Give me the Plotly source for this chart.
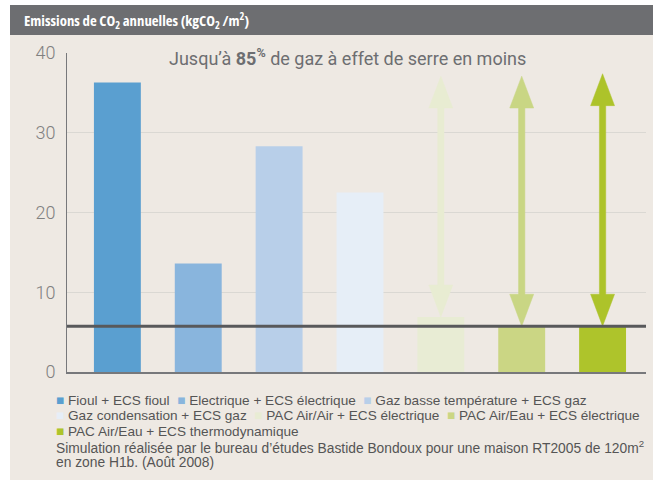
import plotly.graph_objects as go

# ---- data ----
categories = [
    "Fioul + ECS fioul",
    "Electrique + ECS électrique",
    "Gaz basse température + ECS gaz",
    "Gaz condensation + ECS gaz",
    "PAC Air/Air + ECS électrique",
    "PAC Air/Eau + ECS électrique",
    "PAC Air/Eau + ECS thermodynamique",
]
emissions = [36.3, 13.6, 28.3, 22.5, 6.9, 5.8, 5.8]
reference_level = 5.75
arrow_top = [None, None, None, None, 37.1, 37.1, 37.4]
arrow_bottom = [None, None, None, None, 6.9, 5.75, 5.75]
y_ticks = [0, 10, 20, 30, 40]
legend_rows = [[0, 1, 2], [3, 4, 5], [6]]
note_lines = [
    "Simulation réalisée par le bureau d’études Bastide Bondoux pour une maison RT2005 de 120m<sup>2</sup>",
    "en zone H1b. (Août 2008)",
]

# ---- styles ----
colors = ["#5A9FD0", "#89B5DD", "#B8CFE9", "#E6EEF7", "#E8ECD4", "#CBD684", "#AEC42B"]
arrow_colors = ["", "", "", "", "#E8ECD2", "#C9D684", "#ADC32A"]
BAR_W = 0.58
HEAD_HW = 0.148   # arrow head half-width (x units)
SHAFT_HW = 0.039  # arrow shaft half-width (x units)
HEAD_LEN = 4.0    # arrow head length (y units)
BG = "#EEE9E3"
TEXT_FONT = "Liberation Sans, Arial, sans-serif"

W, H = 659, 480
ML, MR, MT, MB = 67, 13, 53, 108
PW, PH = W - ML - MR, H - MT - MB


def px(x):
    return (x - ML) / PW


def py(y):
    return (H - MB - y) / PH


fig = go.Figure()

for i, (cat, val) in enumerate(zip(categories, emissions)):
    fig.add_trace(go.Bar(x=[i], y=[val], width=BAR_W, marker=dict(color=colors[i], line=dict(width=0)),
                         name=cat, showlegend=False, hoverinfo="y"))

for i, (t, b) in enumerate(zip(arrow_top, arrow_bottom)):
    if t is None:
        continue
    xs = [i - SHAFT_HW, i - HEAD_HW, i, i + HEAD_HW, i + SHAFT_HW,
          i + SHAFT_HW, i + HEAD_HW, i, i - HEAD_HW, i - SHAFT_HW, i - SHAFT_HW]
    ys = [t - HEAD_LEN, t - HEAD_LEN, t, t - HEAD_LEN, t - HEAD_LEN,
          b + HEAD_LEN, b + HEAD_LEN, b, b + HEAD_LEN, b + HEAD_LEN, t - HEAD_LEN]
    fig.add_trace(go.Scatter(x=xs, y=ys, mode="lines", fill="toself", fillcolor=arrow_colors[i],
                             line=dict(color=arrow_colors[i], width=0.5), showlegend=False,
                             hoverinfo="skip"))

shapes = [
    dict(type="rect", xref="paper", yref="paper", x0=px(10), x1=px(653), y0=py(5), y1=py(482),
         fillcolor=BG, line=dict(width=0), layer="below"),
    dict(type="rect", xref="paper", yref="paper", x0=px(10), x1=px(653), y0=py(5), y1=py(35),
         fillcolor="#6D6E71", line=dict(width=0), layer="below"),
    dict(type="line", xref="paper", yref="y", x0=0, x1=1, y0=reference_level, y1=reference_level,
         line=dict(color="#58595B", width=3), layer="above"),
]

annotations = [
    dict(xref="paper", yref="paper", x=px(22), y=py(20), xanchor="left", yanchor="middle", showarrow=False,
         text='<span style="font-stretch:condensed"><b>Emissions de CO<sub>2</sub> annuelles '
              '(kgCO<sub>2</sub> /m<sup>2</sup>)</b></span>',
         font=dict(family="Open Sans, sans-serif", size=14.8, color="white")),
    dict(xref="paper", yref="paper", x=px(347), y=py(57), xanchor="center", yanchor="middle", showarrow=False,
         text="Jusqu’à <b>85<sup>%</sup></b> de gaz à effet de serre en moins",
         font=dict(family="Roboto, sans-serif", size=18, color="#6D6E71")),
]

# legend rows (coloured squares + category names), built from the category list
legend_y = [400, 415.7, 431.7]
for r, row in enumerate(legend_rows):
    parts = [f'<span style="color:{colors[i]}">■</span>\u00a0{categories[i]}' for i in row]
    annotations.append(dict(xref="paper", yref="paper", x=px(54), y=py(legend_y[r]), xanchor="left",
                            yanchor="middle", showarrow=False, text="\u00a0\u00a0".join(parts),
                            font=dict(family=TEXT_FONT, size=13.6, color="#555555")))

note_y = [447, 462.7]
for line, yv in zip(note_lines, note_y):
    annotations.append(dict(xref="paper", yref="paper", x=px(54), y=py(yv), xanchor="left",
                            yanchor="middle", showarrow=False, text=line,
                            font=dict(family=TEXT_FONT, size=13.8, color="#555555")))

fig.update_layout(
    width=W, height=H,
    margin=dict(l=ML, r=MR, t=MT, b=MB, pad=0),
    paper_bgcolor="white",
    plot_bgcolor="rgba(0,0,0,0)",
    barmode="overlay",
    showlegend=False,
    shapes=shapes,
    annotations=annotations,
    xaxis=dict(range=[-0.623, 6.537], showticklabels=False, showgrid=False, zeroline=False,
               showline=True, linecolor="#77787B", linewidth=1.5, ticks=""),
    yaxis=dict(range=[0, 40], tickvals=y_ticks, showgrid=True, gridcolor="#DAD8D3", gridwidth=1.2,
               zeroline=False, showline=True, linecolor="#77787B", linewidth=1, ticks="",
               ticklabelstandoff=7,
               tickfont=dict(family="Roboto, sans-serif", size=18, color="#808080", weight=300)),
    hovermode=False,
)

fig.write_html("out.html", config={"displayModeBar": False},
               post_script="document.body.style.margin='0';")
